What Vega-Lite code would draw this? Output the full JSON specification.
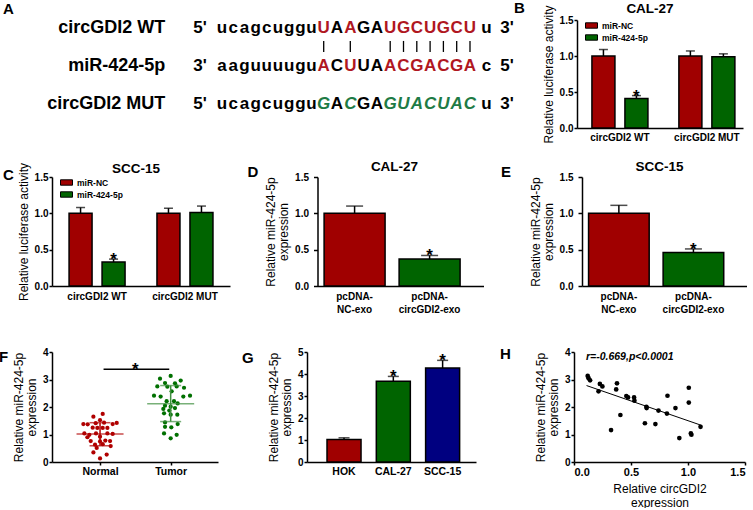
{
"$schema":"https://vega.github.io/schema/vega-lite/v6.json",
"background":"white",
"padding":{"left":-1,"top":1,"right":0,"bottom":0},
"autosize":{"type":"pad"},
"config":{
 "font":"Liberation Sans",
 "view":{"stroke":null},
 "axis":{"grid":false,"labelOverlap":false,"domainColor":"black","domainWidth":1.5,"tickColor":"black","tickWidth":1.5,"tickSize":3,"labelColor":"black","labelFont":"Liberation Sans","labelFontWeight":"bold","labelFontSize":10,"labelPadding":1,"titleColor":"black","titleFont":"Liberation Sans","titleFontWeight":"normal","titleFontSize":12,"titlePadding":4,"titleLineHeight":13},
 "axisX":{"labelAngle":0},
 "axisY":{"labelOverlap":false,"labelBound":false,"labelFlush":false},
 "title":{"color":"black","font":"Liberation Sans","fontWeight":"bold","fontSize":13.5,"anchor":"middle","frame":"group","baseline":"alphabetic"},
 "legend":{"labelFont":"Liberation Sans"}
},
"resolve":{"scale":{"fill":"independent","color":"independent"},"legend":{"fill":"independent","color":"independent"}},
"spacing":15,
"vconcat":[
{"spacing":0,"resolve":{"scale":{"fill":"independent","color":"independent"},"legend":{"fill":"independent","color":"independent"}},"hconcat":[
 {"resolve":{"scale":{"fill":"independent","color":"independent"},"legend":{"fill":"independent","color":"independent"}},"title":{"text":"A","anchor":"start","dx":-49,"offset":2,"fontSize":15},
  "vconcat":[{
   "width":440,"height":108,
   "data":{"values":[
    {"line":1,"pos":0,"ch":"5'","kind":"k"},
    {"line":1,"pos":2,"ch":"u","kind":"k"},{"line":1,"pos":3,"ch":"c","kind":"k"},{"line":1,"pos":4,"ch":"a","kind":"k"},{"line":1,"pos":5,"ch":"g","kind":"k"},{"line":1,"pos":6,"ch":"c","kind":"k"},{"line":1,"pos":7,"ch":"u","kind":"k"},{"line":1,"pos":8,"ch":"g","kind":"k"},{"line":1,"pos":9,"ch":"g","kind":"k"},{"line":1,"pos":10,"ch":"u","kind":"k"},
    {"line":1,"pos":11,"ch":"U","kind":"r"},{"line":1,"pos":12,"ch":"A","kind":"k"},{"line":1,"pos":13,"ch":"A","kind":"r"},{"line":1,"pos":14,"ch":"G","kind":"k"},{"line":1,"pos":15,"ch":"A","kind":"k"},{"line":1,"pos":16,"ch":"U","kind":"r"},{"line":1,"pos":17,"ch":"G","kind":"r"},{"line":1,"pos":18,"ch":"C","kind":"r"},{"line":1,"pos":19,"ch":"U","kind":"r"},{"line":1,"pos":20,"ch":"G","kind":"r"},{"line":1,"pos":21,"ch":"C","kind":"r"},{"line":1,"pos":22,"ch":"U","kind":"r"},{"line":1,"pos":23,"ch":"u","kind":"k"},{"line":1,"pos":25,"ch":"3'","kind":"k"},
    {"line":2,"pos":0,"ch":"3'","kind":"k"},
    {"line":2,"pos":2,"ch":"a","kind":"k"},{"line":2,"pos":3,"ch":"a","kind":"k"},{"line":2,"pos":4,"ch":"g","kind":"k"},{"line":2,"pos":5,"ch":"u","kind":"k"},{"line":2,"pos":6,"ch":"u","kind":"k"},{"line":2,"pos":7,"ch":"u","kind":"k"},{"line":2,"pos":8,"ch":"u","kind":"k"},{"line":2,"pos":9,"ch":"g","kind":"k"},{"line":2,"pos":10,"ch":"u","kind":"k"},
    {"line":2,"pos":11,"ch":"A","kind":"r"},{"line":2,"pos":12,"ch":"C","kind":"k"},{"line":2,"pos":13,"ch":"U","kind":"r"},{"line":2,"pos":14,"ch":"U","kind":"k"},{"line":2,"pos":15,"ch":"A","kind":"k"},{"line":2,"pos":16,"ch":"A","kind":"r"},{"line":2,"pos":17,"ch":"C","kind":"r"},{"line":2,"pos":18,"ch":"G","kind":"r"},{"line":2,"pos":19,"ch":"A","kind":"r"},{"line":2,"pos":20,"ch":"C","kind":"r"},{"line":2,"pos":21,"ch":"G","kind":"r"},{"line":2,"pos":22,"ch":"A","kind":"r"},{"line":2,"pos":23,"ch":"c","kind":"k"},{"line":2,"pos":25,"ch":"5'","kind":"k"},
    {"line":3,"pos":0,"ch":"5'","kind":"k"},
    {"line":3,"pos":2,"ch":"u","kind":"k"},{"line":3,"pos":3,"ch":"c","kind":"k"},{"line":3,"pos":4,"ch":"a","kind":"k"},{"line":3,"pos":5,"ch":"g","kind":"k"},{"line":3,"pos":6,"ch":"c","kind":"k"},{"line":3,"pos":7,"ch":"u","kind":"k"},{"line":3,"pos":8,"ch":"g","kind":"k"},{"line":3,"pos":9,"ch":"g","kind":"k"},{"line":3,"pos":10,"ch":"u","kind":"k"},
    {"line":3,"pos":11,"ch":"G","kind":"g"},{"line":3,"pos":12,"ch":"A","kind":"k"},{"line":3,"pos":13,"ch":"C","kind":"g"},{"line":3,"pos":14,"ch":"G","kind":"k"},{"line":3,"pos":15,"ch":"A","kind":"k"},{"line":3,"pos":16,"ch":"G","kind":"g"},{"line":3,"pos":17,"ch":"U","kind":"g"},{"line":3,"pos":18,"ch":"A","kind":"g"},{"line":3,"pos":19,"ch":"C","kind":"g"},{"line":3,"pos":20,"ch":"U","kind":"g"},{"line":3,"pos":21,"ch":"A","kind":"g"},{"line":3,"pos":22,"ch":"C","kind":"g"},{"line":3,"pos":23,"ch":"u","kind":"k"},{"line":3,"pos":25,"ch":"3'","kind":"k"},
    {"line":1,"pos":11,"ch":"","kind":"bar"},{"line":1,"pos":13,"ch":"","kind":"bar"},{"line":1,"pos":16,"ch":"","kind":"bar"},{"line":1,"pos":17,"ch":"","kind":"bar"},{"line":1,"pos":18,"ch":"","kind":"bar"},{"line":1,"pos":19,"ch":"","kind":"bar"},{"line":1,"pos":20,"ch":"","kind":"bar"},{"line":1,"pos":21,"ch":"","kind":"bar"},{"line":1,"pos":22,"ch":"","kind":"bar"},
    {"line":1,"pos":-2.9,"ch":"circGDI2 WT","kind":"label"},{"line":2,"pos":-2.9,"ch":"miR-424-5p","kind":"label"},{"line":3,"pos":-2.9,"ch":"circGDI2 MUT","kind":"label"}
   ]},
   "encoding":{
    "x":{"field":"pos","type":"quantitative","scale":{"domain":[-2.75,0,2,10,11,22,23,25],"range":[115,148,170,259.5,271.7,418,434.5,455],"nice":false,"zero":false},"axis":null},
    "y":{"field":"line","type":"quantitative","scale":{"domain":[0.789,3.63],"nice":false,"zero":false,"reverse":true},"axis":null}
   },
   "layer":[
    {"transform":[{"filter":"datum.kind == 'k'"}],"mark":{"type":"text","fontSize":17,"fontWeight":"bold","color":"black","baseline":"middle"},"encoding":{"text":{"field":"ch"}}},
    {"transform":[{"filter":"datum.kind == 'r'"}],"mark":{"type":"text","fontSize":17,"fontWeight":"bold","color":"#B0171F","baseline":"middle"},"encoding":{"text":{"field":"ch"}}},
    {"transform":[{"filter":"datum.kind == 'g'"}],"mark":{"type":"text","fontSize":17,"fontWeight":"bold","fontStyle":"italic","color":"#1E7B45","baseline":"middle"},"encoding":{"text":{"field":"ch"}}},
    {"transform":[{"filter":"datum.kind == 'label'"}],"mark":{"type":"text","fontSize":18,"fontWeight":"bold","color":"black","baseline":"middle","align":"right"},"encoding":{"text":{"field":"ch"}}},
    {"transform":[{"filter":"datum.kind == 'bar'"}],"mark":{"type":"rule","color":"black","strokeWidth":1.3},"encoding":{"y":{"datum":1.34},"y2":{"datum":1.63}}}
   ]
  }]},
 {"resolve":{"scale":{"fill":"independent","color":"independent"},"legend":{"fill":"independent","color":"independent"}},"title":{"text":"B","anchor":"start","dx":-63,"offset":-14,"fontSize":15},
  "vconcat":[{
   "title":{"text":"CAL-27","offset":-11,"dx":-10},
   "width":166,"height":108,
   "data":{"values":[
    {"construct":"circGDI2 WT","treat":"miR-NC","value":1.0,"hi":1.09,"sig":""},
    {"construct":"circGDI2 WT","treat":"miR-424-5p","value":0.41,"hi":0.45,"sig":"*"},
    {"construct":"circGDI2 MUT","treat":"miR-NC","value":1.0,"hi":1.07,"sig":""},
    {"construct":"circGDI2 MUT","treat":"miR-424-5p","value":0.99,"hi":1.03,"sig":""}]},
   "encoding":{
    "x":{"field":"construct","type":"nominal","sort":["circGDI2 WT","circGDI2 MUT"],"title":null,"scale":{"paddingInner":0.287,"paddingOuter":0.098,"align":0.7},"axis":{"ticks":false,"labelPadding":4}},
    "xOffset":{"field":"treat","type":"nominal","sort":["miR-NC","miR-424-5p"],"scale":{"paddingInner":0.303,"paddingOuter":0.091}}
   },
   "layer":[
    {"mark":{"type":"bar","stroke":"black","strokeWidth":1.5},
     "encoding":{"y":{"field":"value","type":"quantitative","title":"Relative luciferase activity","scale":{"domain":[0,1.5],"nice":false},"axis":{"tickCount":3,"format":".1f","labelOverlap":false,"labelBound":false,"labelFlush":false}},
      "fill":{"field":"treat","type":"nominal","sort":["miR-NC","miR-424-5p"],"scale":{"domain":["miR-NC","miR-424-5p"],"range":["#A00000","#006400"]},
       "legend":{"title":null,"orient":"none","legendX":8,"legendY":-1,"symbolType":"M-1,-0.45H1V0.45H-1Z","symbolSize":144,"symbolStrokeColor":"black","symbolStrokeWidth":1,"symbolOpacity":1,"labelFontSize":8.5,"labelFontWeight":"bold","labelColor":"black","labelOffset":4,"rowPadding":-3,"padding":0}}}},
    {"mark":{"type":"rule","color":"black","strokeWidth":1.5},"encoding":{"y":{"field":"value","type":"quantitative","title":"Relative luciferase activity"},"y2":{"field":"hi"}}},
    {"mark":{"type":"tick","color":"black","thickness":1.5,"size":9,"orient":"horizontal"},"encoding":{"y":{"field":"hi","type":"quantitative","title":"Relative luciferase activity"}}},
    {"mark":{"type":"text","fontSize":17,"fontWeight":"bold","dy":6,"baseline":"alphabetic","color":"black"},"encoding":{"y":{"field":"hi","type":"quantitative","title":"Relative luciferase activity"},"text":{"field":"sig"}}}
   ]
  }]}
]},
{"spacing":33,"resolve":{"scale":{"fill":"independent","color":"independent"},"legend":{"fill":"independent","color":"independent"}},"vconcat":[
 {"spacing":17.5,"resolve":{"scale":{"fill":"independent","color":"independent"},"legend":{"fill":"independent","color":"independent"}},"hconcat":[
  {"resolve":{"scale":{"fill":"independent","color":"independent"},"legend":{"fill":"independent","color":"independent"}},"title":{"text":"C","anchor":"start","dx":-49,"offset":-21,"fontSize":15},
   "vconcat":[{
    "title":{"text":"SCC-15","offset":-13,"dx":-5},
    "width":178,"height":109,
    "data":{"values":[
     {"construct":"circGDI2 WT","treat":"miR-NC","value":1.0,"hi":1.08,"sig":""},
     {"construct":"circGDI2 WT","treat":"miR-424-5p","value":0.33,"hi":0.37,"sig":"*"},
     {"construct":"circGDI2 MUT","treat":"miR-NC","value":1.0,"hi":1.07,"sig":""},
     {"construct":"circGDI2 MUT","treat":"miR-424-5p","value":1.01,"hi":1.1,"sig":""}]},
    "encoding":{
     "x":{"field":"construct","type":"nominal","sort":["circGDI2 WT","circGDI2 MUT"],"title":null,"scale":{"paddingInner":0.295,"paddingOuter":0.16,"align":0.5},"axis":{"ticks":false,"labelPadding":5}},
     "xOffset":{"field":"treat","type":"nominal","sort":["miR-NC","miR-424-5p"],"scale":{"paddingInner":0.303,"paddingOuter":0.091}}
    },
    "layer":[
     {"mark":{"type":"bar","stroke":"black","strokeWidth":1.5},
      "encoding":{"y":{"field":"value","type":"quantitative","title":"Relative luciferase activity","scale":{"domain":[0,1.5],"nice":false},"axis":{"tickCount":3,"format":".1f","labelOverlap":false,"labelBound":false,"labelFlush":false}},
       "fill":{"field":"treat","type":"nominal","sort":["miR-NC","miR-424-5p"],"scale":{"domain":["miR-NC","miR-424-5p"],"range":["#A00000","#006400"]},
        "legend":{"title":null,"orient":"none","legendX":8,"legendY":-1,"symbolType":"M-1,-0.45H1V0.45H-1Z","symbolSize":144,"symbolStrokeColor":"black","symbolStrokeWidth":1,"symbolOpacity":1,"labelFontSize":8.5,"labelFontWeight":"bold","labelColor":"black","labelOffset":4,"rowPadding":-3,"padding":0}}}},
     {"mark":{"type":"rule","color":"black","strokeWidth":1.5},"encoding":{"y":{"field":"value","type":"quantitative","title":"Relative luciferase activity"},"y2":{"field":"hi"}}},
     {"mark":{"type":"tick","color":"black","thickness":1.5,"size":9,"orient":"horizontal"},"encoding":{"y":{"field":"hi","type":"quantitative","title":"Relative luciferase activity"}}},
     {"mark":{"type":"text","fontSize":17,"fontWeight":"bold","dy":6,"baseline":"alphabetic","color":"black"},"encoding":{"y":{"field":"hi","type":"quantitative","title":"Relative luciferase activity"},"text":{"field":"sig"}}}
    ]
   }]},
  {"resolve":{"scale":{"fill":"independent","color":"independent"},"legend":{"fill":"independent","color":"independent"}},"title":{"text":"D","anchor":"start","dx":-70,"offset":-20,"fontSize":15},
   "vconcat":[{
    "title":{"text":"CAL-27","offset":-1,"dx":-6},
    "width":166,"height":109,
    "data":{"values":[{"cond":"pcDNA-NC-exo","value":1.0,"hi":1.1,"sig":""},{"cond":"pcDNA-circGDI2-exo","value":0.37,"hi":0.42,"sig":"*"}]},
    "encoding":{"x":{"field":"cond","type":"nominal","sort":["pcDNA-NC-exo","pcDNA-circGDI2-exo"],"title":null,"scale":{"paddingInner":0.187,"paddingOuter":0.2,"align":0.22},"axis":{"ticks":false,"labelPadding":5,"labelLineHeight":13,"labelExpr":"datum.label == 'pcDNA-NC-exo' ? ['pcDNA-', 'NC-exo'] : ['pcDNA-', 'circGDI2-exo']"}}},
    "layer":[
     {"mark":{"type":"bar","stroke":"black","strokeWidth":1.5},
      "encoding":{"y":{"field":"value","type":"quantitative","title":["Relative miR-424-5p","expression"],"scale":{"domain":[0,1.5],"nice":false},"axis":{"tickCount":3,"format":".1f","tickSize":4,"labelPadding":5,"labelOverlap":false,"labelBound":false,"labelFlush":false}},
       "fill":{"field":"cond","type":"nominal","scale":{"domain":["pcDNA-NC-exo","pcDNA-circGDI2-exo"],"range":["#A00000","#006400"]},"legend":null}}},
     {"mark":{"type":"rule","color":"black","strokeWidth":1.5},"encoding":{"y":{"field":"value","type":"quantitative","title":["Relative miR-424-5p","expression"]},"y2":{"field":"hi"}}},
     {"mark":{"type":"tick","color":"black","thickness":1.5,"size":17,"orient":"horizontal"},"encoding":{"y":{"field":"hi","type":"quantitative","title":["Relative miR-424-5p","expression"]}}},
     {"mark":{"type":"text","fontSize":17,"fontWeight":"bold","dy":6,"baseline":"alphabetic","color":"black"},"encoding":{"y":{"field":"hi","type":"quantitative","title":["Relative miR-424-5p","expression"]},"text":{"field":"sig"}}}
    ]
   }]},
  {"resolve":{"scale":{"fill":"independent","color":"independent"},"legend":{"fill":"independent","color":"independent"}},"title":{"text":"E","anchor":"start","dx":-81,"offset":-20,"fontSize":15},
   "vconcat":[{
    "title":{"text":"SCC-15","offset":-1,"dx":-5},
    "width":165,"height":109,
    "data":{"values":[{"cond":"pcDNA-NC-exo","value":1.0,"hi":1.11,"sig":""},{"cond":"pcDNA-circGDI2-exo","value":0.46,"hi":0.51,"sig":"*"}]},
    "encoding":{"x":{"field":"cond","type":"nominal","sort":["pcDNA-NC-exo","pcDNA-circGDI2-exo"],"title":null,"scale":{"paddingInner":0.187,"paddingOuter":0.2,"align":0.22},"axis":{"ticks":false,"labelPadding":5,"labelLineHeight":13,"labelExpr":"datum.label == 'pcDNA-NC-exo' ? ['pcDNA-', 'NC-exo'] : ['pcDNA-', 'circGDI2-exo']"}}},
    "layer":[
     {"mark":{"type":"bar","stroke":"black","strokeWidth":1.5},
      "encoding":{"y":{"field":"value","type":"quantitative","title":["Relative miR-424-5p","expression"],"scale":{"domain":[0,1.5],"nice":false},"axis":{"tickCount":3,"format":".1f","tickSize":4,"labelPadding":5,"labelOverlap":false,"labelBound":false,"labelFlush":false}},
       "fill":{"field":"cond","type":"nominal","scale":{"domain":["pcDNA-NC-exo","pcDNA-circGDI2-exo"],"range":["#A00000","#006400"]},"legend":null}}},
     {"mark":{"type":"rule","color":"black","strokeWidth":1.5},"encoding":{"y":{"field":"value","type":"quantitative","title":["Relative miR-424-5p","expression"]},"y2":{"field":"hi"}}},
     {"mark":{"type":"tick","color":"black","thickness":1.5,"size":17,"orient":"horizontal"},"encoding":{"y":{"field":"hi","type":"quantitative","title":["Relative miR-424-5p","expression"]}}},
     {"mark":{"type":"text","fontSize":17,"fontWeight":"bold","dy":6,"baseline":"alphabetic","color":"black"},"encoding":{"y":{"field":"hi","type":"quantitative","title":["Relative miR-424-5p","expression"]},"text":{"field":"sig"}}}
    ]
   }]}
 ]},
 {"spacing":24,"resolve":{"scale":{"fill":"independent","color":"independent"},"legend":{"fill":"independent","color":"independent"}},"hconcat":[
  {"resolve":{"scale":{"fill":"independent","color":"independent"},"legend":{"fill":"independent","color":"independent"}},"title":{"text":"F","anchor":"start","dx":-53,"offset":-18,"fontSize":15},
   "vconcat":[{
    "width":166,"height":110,
    "layer":[
     {"data":{"values":[
       {"g":"Normal","x":0.906,"y":1.65},{"g":"Normal","x":1.038,"y":1.75},{"g":"Normal","x":0.764,"y":1.38},{"g":"Normal","x":0.825,"y":1.37},{"g":"Normal","x":0.939,"y":1.41},{"g":"Normal","x":1.0,"y":1.52},{"g":"Normal","x":1.057,"y":1.43},{"g":"Normal","x":1.179,"y":1.38},{"g":"Normal","x":1.236,"y":1.42},{"g":"Normal","x":0.896,"y":1.25},{"g":"Normal","x":0.962,"y":1.24},{"g":"Normal","x":1.038,"y":1.24},{"g":"Normal","x":1.104,"y":1.24},{"g":"Normal","x":0.778,"y":1.04},{"g":"Normal","x":0.849,"y":0.99},{"g":"Normal","x":0.821,"y":0.9},{"g":"Normal","x":0.943,"y":1.04},{"g":"Normal","x":1.104,"y":1.04},{"g":"Normal","x":1.179,"y":1.02},{"g":"Normal","x":1.0,"y":0.92},{"g":"Normal","x":0.868,"y":0.76},{"g":"Normal","x":0.929,"y":0.63},{"g":"Normal","x":1.0,"y":0.75},{"g":"Normal","x":1.075,"y":0.78},{"g":"Normal","x":1.142,"y":0.76},{"g":"Normal","x":1.038,"y":0.65},{"g":"Normal","x":0.953,"y":0.51},{"g":"Normal","x":1.151,"y":0.58},{"g":"Normal","x":0.906,"y":0.35},{"g":"Normal","x":1.094,"y":0.27},{"g":"Normal","x":1.0,"y":0.13},
       {"g":"Tumor","x":2.0,"y":3.13},{"g":"Tumor","x":1.849,"y":3.03},{"g":"Tumor","x":2.142,"y":2.96},{"g":"Tumor","x":1.92,"y":2.87},{"g":"Tumor","x":2.061,"y":2.86},{"g":"Tumor","x":1.811,"y":2.75},{"g":"Tumor","x":1.953,"y":2.74},{"g":"Tumor","x":2.085,"y":2.75},{"g":"Tumor","x":2.189,"y":2.7},{"g":"Tumor","x":2.014,"y":2.57},{"g":"Tumor","x":1.764,"y":2.41},{"g":"Tumor","x":1.858,"y":2.38},{"g":"Tumor","x":2.179,"y":2.38},{"g":"Tumor","x":2.274,"y":2.41},{"g":"Tumor","x":1.943,"y":2.21},{"g":"Tumor","x":2.047,"y":2.21},{"g":"Tumor","x":2.099,"y":2.13},{"g":"Tumor","x":1.92,"y":2.05},{"g":"Tumor","x":2.0,"y":2.01},{"g":"Tumor","x":1.896,"y":1.93},{"g":"Tumor","x":2.061,"y":1.96},{"g":"Tumor","x":1.981,"y":1.87},{"g":"Tumor","x":1.906,"y":1.77},{"g":"Tumor","x":2.0,"y":1.72},{"g":"Tumor","x":2.094,"y":1.72},{"g":"Tumor","x":1.92,"y":1.44},{"g":"Tumor","x":2.099,"y":1.38},{"g":"Tumor","x":1.92,"y":1.28},{"g":"Tumor","x":2.009,"y":1.26},{"g":"Tumor","x":1.906,"y":1.04},{"g":"Tumor","x":2.085,"y":0.99},{"g":"Tumor","x":2.0,"y":0.86}]},
      "mark":{"type":"circle","size":18,"opacity":1},
      "encoding":{
       "x":{"field":"x","type":"quantitative","title":null,"scale":{"domain":[0.32,2.67],"nice":false,"zero":false},"axis":{"values":[1,2],"labelExpr":"datum.value == 1 ? 'Normal' : 'Tumor'","labelFontSize":10.5,"labelPadding":1,"tickSize":3}},
       "y":{"field":"y","type":"quantitative","title":["Relative miR-424-5p","expression"],"scale":{"domain":[0,4],"nice":false},"axis":{"tickCount":4,"format":"d","labelOverlap":false,"labelBound":false,"labelFlush":false}},
       "color":{"field":"g","type":"nominal","scale":{"domain":["Normal","Tumor"],"range":["#B00000","#007000"]},"legend":null}}},
     {"data":{"values":[{"g":"Normal","x":1,"mean":1.02,"lo":0.59,"hi":1.43},{"g":"Tumor","x":2,"mean":2.12,"lo":1.47,"hi":2.78}]},
      "layer":[
       {"mark":{"type":"tick","orient":"horizontal","size":47,"thickness":1.5},"encoding":{"x":{"field":"x","type":"quantitative","title":null},"y":{"field":"mean","type":"quantitative","title":["Relative miR-424-5p","expression"]},"color":{"field":"g","type":"nominal","scale":{"domain":["Normal","Tumor"],"range":["#B00000","#3F8F3F"]},"legend":null}}},
       {"mark":{"type":"tick","orient":"horizontal","size":21,"thickness":1.5},"encoding":{"x":{"field":"x","type":"quantitative","title":null},"y":{"field":"lo","type":"quantitative","title":["Relative miR-424-5p","expression"]},"color":{"field":"g","type":"nominal","legend":null}}},
       {"mark":{"type":"tick","orient":"horizontal","size":21,"thickness":1.5},"encoding":{"x":{"field":"x","type":"quantitative","title":null},"y":{"field":"hi","type":"quantitative","title":["Relative miR-424-5p","expression"]},"color":{"field":"g","type":"nominal","legend":null}}},
       {"mark":{"type":"rule","strokeWidth":1.5},"encoding":{"x":{"field":"x","type":"quantitative","title":null},"y":{"field":"lo","type":"quantitative","title":["Relative miR-424-5p","expression"]},"y2":{"field":"hi"},"color":{"field":"g","type":"nominal","legend":null}}}
      ]},
     {"data":{"values":[{"x":1.05,"x2":1.98,"y":3.37,"xm":1.5,"sig":"*"}]},
      "layer":[
       {"mark":{"type":"rule","color":"black","strokeWidth":1.5},"encoding":{"x":{"field":"x","type":"quantitative","title":null},"x2":{"field":"x2"},"y":{"field":"y","type":"quantitative","title":["Relative miR-424-5p","expression"]}}},
       {"mark":{"type":"text","fontSize":17,"fontWeight":"bold","dy":6,"baseline":"alphabetic","color":"black"},"encoding":{"x":{"field":"xm","type":"quantitative","title":null},"y":{"field":"y","type":"quantitative","title":["Relative miR-424-5p","expression"]},"text":{"field":"sig"}}}
      ]}
    ],
    "resolve":{"scale":{"color":"independent"}}
   }]},
  {"resolve":{"scale":{"fill":"independent","color":"independent"},"legend":{"fill":"independent","color":"independent"}},"title":{"text":"G","anchor":"start","dx":-65,"offset":-19,"fontSize":15},
   "vconcat":[{
    "width":169,"height":110,
    "data":{"values":[{"cell":"HOK","value":1.02,"hi":1.1,"sig":""},{"cell":"CAL-27","value":3.67,"hi":3.89,"sig":"*"},{"cell":"SCC-15","value":4.27,"hi":4.62,"sig":"*"}]},
    "encoding":{"x":{"field":"cell","type":"nominal","sort":["HOK","CAL-27","SCC-15"],"title":null,"scale":{"paddingInner":0.31,"paddingOuter":0.369,"align":0.55},"axis":{"ticks":false,"labelPadding":4,"labelFontSize":10.5}}},
    "layer":[
     {"mark":{"type":"bar","stroke":"black","strokeWidth":1.5},
      "encoding":{"y":{"field":"value","type":"quantitative","title":["Relative miR-424-5p","expression"],"scale":{"domain":[0,5],"nice":false},"axis":{"tickCount":5,"format":"d","labelOverlap":false,"labelBound":false,"labelFlush":false}},
       "fill":{"field":"cell","type":"nominal","scale":{"domain":["HOK","CAL-27","SCC-15"],"range":["#A00000","#006400","#000080"]},"legend":null}}},
     {"mark":{"type":"rule","color":"black","strokeWidth":1.5},"encoding":{"y":{"field":"value","type":"quantitative","title":["Relative miR-424-5p","expression"]},"y2":{"field":"hi"}}},
     {"mark":{"type":"tick","color":"black","thickness":1.5,"size":11,"orient":"horizontal"},"encoding":{"y":{"field":"hi","type":"quantitative","title":["Relative miR-424-5p","expression"]}}},
     {"mark":{"type":"text","fontSize":17,"fontWeight":"bold","dy":6,"baseline":"alphabetic","color":"black"},"encoding":{"y":{"field":"hi","type":"quantitative","title":["Relative miR-424-5p","expression"]},"text":{"field":"sig"}}}
    ]
   }]},
  {"resolve":{"scale":{"fill":"independent","color":"independent"},"legend":{"fill":"independent","color":"independent"}},"title":{"text":"H","anchor":"start","dx":-74,"offset":-15,"fontSize":15},
   "vconcat":[{
    "width":171,"height":110,
    "layer":[
     {"data":{"values":[
       {"x":0.12,"y":3.13},{"x":0.128,"y":3.05},{"x":0.141,"y":2.97},{"x":0.215,"y":2.57},{"x":0.227,"y":2.84},{"x":0.249,"y":2.75},{"x":0.325,"y":1.16},{"x":0.377,"y":2.86},{"x":0.37,"y":2.64},{"x":0.407,"y":1.71},{"x":0.459,"y":2.4},{"x":0.474,"y":2.35},{"x":0.527,"y":2.35},{"x":0.53,"y":2.23},{"x":0.622,"y":1.41},{"x":0.635,"y":2.01},{"x":0.637,"y":1.96},{"x":0.714,"y":1.38},{"x":0.741,"y":1.87},{"x":0.82,"y":2.41},{"x":0.815,"y":1.76},{"x":0.89,"y":1.96},{"x":0.924,"y":0.87},{"x":1.007,"y":2.7},{"x":1.007,"y":2.16},{"x":1.025,"y":1.04},{"x":1.03,"y":0.99},{"x":1.11,"y":1.28}]},
      "mark":{"type":"circle","size":22,"color":"black","opacity":1},
      "encoding":{
       "x":{"field":"x","type":"quantitative","title":["Relative circGDI2","expression"],"scale":{"domain":[0,1.5],"nice":false},"axis":{"values":[0,0.5,1,1.5],"format":".1f","labelFontSize":11,"titlePadding":6,"titleLineHeight":14}},
       "y":{"field":"y","type":"quantitative","title":["Relative miR-424-5p","expression"],"scale":{"domain":[0,4],"nice":false},"axis":{"tickCount":4,"format":"d","labelOverlap":false,"labelBound":false,"labelFlush":false}}}},
     {"data":{"values":[{"x":0.11,"y":2.78},{"x":1.12,"y":1.33}]},
      "mark":{"type":"line","color":"black","strokeWidth":1},
      "encoding":{"x":{"field":"x","type":"quantitative","title":["Relative circGDI2","expression"]},"y":{"field":"y","type":"quantitative","title":["Relative miR-424-5p","expression"]}}},
     {"data":{"values":[{"x":0.105,"y":3.72,"t":"r=-0.669,p<0.0001"}]},
      "mark":{"type":"text","align":"left","baseline":"alphabetic","fontSize":10.5,"fontWeight":"bold","fontStyle":"italic","color":"black"},
      "encoding":{"x":{"field":"x","type":"quantitative","title":["Relative circGDI2","expression"]},"y":{"field":"y","type":"quantitative","title":["Relative miR-424-5p","expression"]},"text":{"field":"t"}}}
    ]
   }]}
 ]}
]}
]
}
